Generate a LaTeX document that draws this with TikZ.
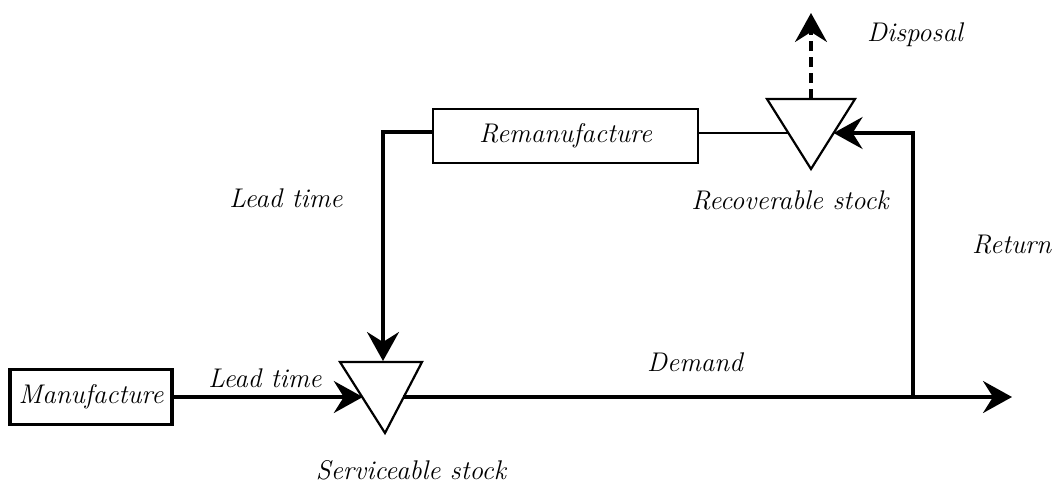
\documentclass[tikz,border=0pt]{standalone}
\usetikzlibrary{arrows.meta}
\begin{document}
\begin{tikzpicture}[x=1pt,y=-1pt,
  lbl/.style={font=\fontsize{27}{31}\selectfont\itshape, inner sep=0pt},
  thickbox/.style={draw, line width=3.4pt, inner sep=0pt,
    font=\fontsize{27}{31}\selectfont\itshape},
  thinbox/.style={draw, line width=1.8pt, inner sep=0pt,
    font=\fontsize{27}{31}\selectfont\itshape},
  tri/.style={draw, line width=2.2pt, line join=miter},
  tip/.style={-{Stealth[length=29pt,width=32pt,inset=10pt]}},
  flow/.style={line width=3.2pt, tip},
  link/.style={line width=1.8pt},
  dispose/.style={line width=3.2pt, dash pattern=on 10pt off 6pt, tip}
]
\useasboundingbox (0,0) rectangle (1053,496);

% process boxes
\node[thickbox, minimum width=162pt, minimum height=55pt] (manuf) at (91,397) {Manufacture};
\node[thinbox, minimum width=265pt, minimum height=54pt] (reman) at (565.5,136) {Remanufacture};

% serviceable stock triangle
\coordinate (sL) at (340,362);
\coordinate (sR) at (422,362);
\coordinate (sB) at (385,433);
\draw[tri] (sL) -- (sR) -- (sB) -- cycle;
\coordinate (sIn) at (362.8,397);
\coordinate (sOut) at (403.2,397);
\coordinate (sTop) at (383,361);

% recoverable stock triangle
\coordinate (rL) at (767,99);
\coordinate (rR) at (855,99);
\coordinate (rB) at (811,169);
\draw[tri] (rL) -- (rR) -- (rB) -- cycle;
\coordinate (rIn) at (833.6,133);
\coordinate (rOut) at (788.4,133);
\coordinate (rTop) at (811,99);

% free ends
\coordinate (demEnd) at (1012,397);
\coordinate (junc) at (913,397);
\coordinate (dispEnd) at (811,13);

% connectors
\draw[flow] (manuf.east) -- (sIn);
\draw[flow] (sOut) -- (demEnd);
\draw[flow] (junc) |- (rIn);
\draw[link] ([yshift=3pt]reman.east) -- (rOut);
\draw[flow] ([yshift=4pt]reman.west) -| (sTop);
\draw[dispose] (rTop) -- (dispEnd);

% labels
\node[lbl] (lt1) at (286,198) {Lead time};
\node[lbl] (lt2) at (265,378) {Lead time};
\node[lbl] (dem) at (695,362) {Demand};
\node[lbl, anchor=west] (ret) at (972,245) {Return};
\node[lbl] (disp) at (915,35) {Disposal};
\node[lbl] (rec) at (790,200) {Recoverable stock};
\node[lbl] (serv) at (411,470) {Serviceable stock};
\end{tikzpicture}
\end{document}
